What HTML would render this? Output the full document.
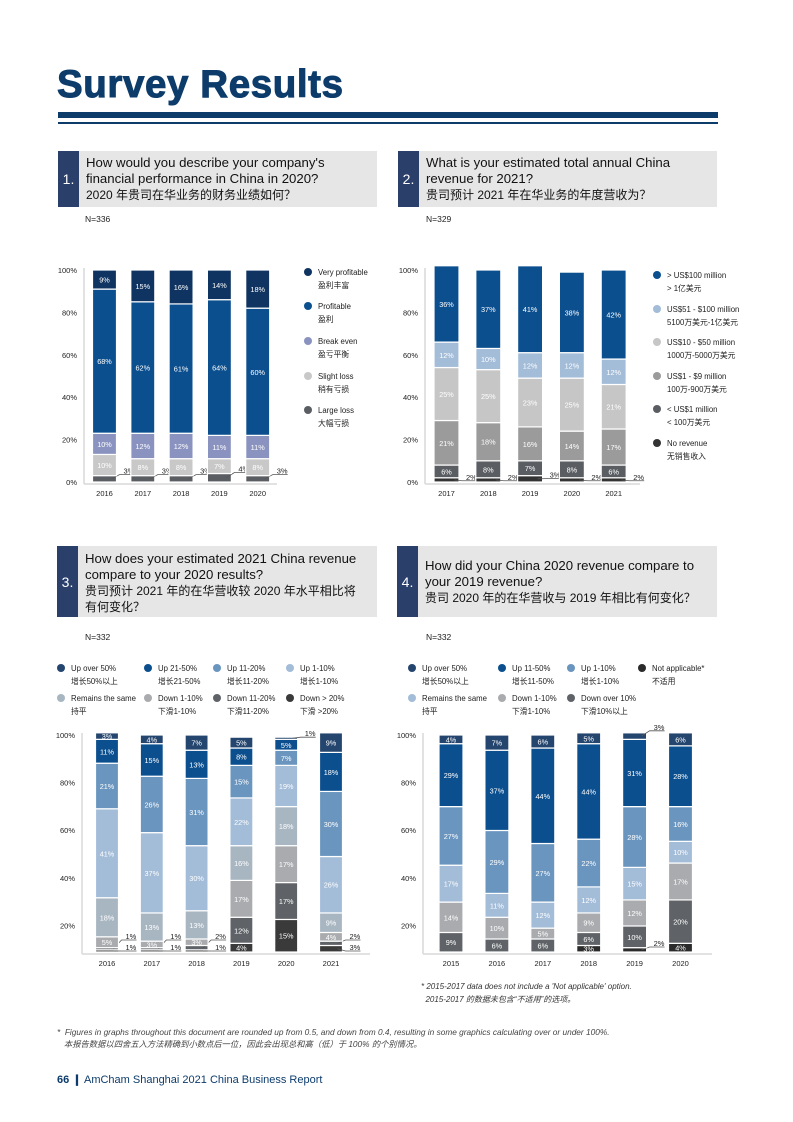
<!DOCTYPE html>
<html><head><meta charset="utf-8">
<style>
body{margin:0;background:#fff;}
#page{position:relative;width:793px;height:1122px;overflow:hidden;font-family:"Liberation Sans","Noto Sans CJK SC",sans-serif;}
.abs{position:absolute;}
.qbox{position:absolute;background:#e6e6e6;}
.qnum{position:absolute;left:0;top:0;bottom:0;width:21px;background:#2b3f6b;color:#fff;font-size:14px;display:flex;align-items:center;justify-content:center;}
.qtext{position:absolute;left:28px;top:4px;font-size:13.2px;line-height:16px;color:#111;}
.n{position:absolute;font-size:8.5px;color:#222;}
</style></head>
<body>
<div id="page">
<div class="abs" style="left:57px;top:63px;font-size:38.5px;font-weight:bold;color:#0d3c6b;letter-spacing:0.6px;-webkit-text-stroke:1px #0d3c6b;">Survey Results</div>
<div class="abs" style="left:58px;top:112px;width:660px;height:6px;background:#0d3c6b;"></div>
<div class="abs" style="left:58px;top:122px;width:660px;height:2px;background:#0d3c6b;"></div>

<div class="qbox" style="left:58px;top:151px;width:319px;height:56px;">
<div class="qnum">1.</div>
<div class="qtext">How would you describe your company's<br>financial performance in China in 2020?<br><span style="font-size:12px">2020 年贵司在华业务的财务业绩如何？</span></div></div>
<div class="n" style="left:85px;top:214px">N=336</div>

<div class="qbox" style="left:398px;top:151px;width:319px;height:56px;">
<div class="qnum">2.</div>
<div class="qtext">What is your estimated total annual China<br>revenue for 2021?<br><span style="font-size:12px">贵司预计 2021 年在华业务的年度营收为？</span></div></div>
<div class="n" style="left:426px;top:214px">N=329</div>

<div class="qbox" style="left:57px;top:546px;width:320px;height:71px;">
<div class="qnum">3.</div>
<div class="qtext" style="top:5px">How does your estimated 2021 China revenue<br>compare to your 2020 results?<br><span style="font-size:12px">贵司预计 2021 年的在华营收较 2020 年水平相比将<br>有何变化？</span></div></div>
<div class="n" style="left:85px;top:632px">N=332</div>

<div class="qbox" style="left:397px;top:546px;width:320px;height:71px;">
<div class="qnum">4.</div>
<div class="qtext" style="top:12px">How did your China 2020 revenue compare to<br>your 2019 revenue?<br><span style="font-size:12px">贵司 2020 年的在华营收与 2019 年相比有何变化？</span></div></div>
<div class="n" style="left:426px;top:632px">N=332</div>

<svg id="charts" class="abs" style="left:0;top:0" width="793" height="1122"></svg>

<div class="abs" style="left:421px;top:980px;font-size:8px;font-style:italic;color:#333;line-height:13px;">* 2015-2017 data does not include a 'Not applicable' option.<br>&nbsp; 2015-2017 的数据未包含“不适用”的选项。</div>
<div class="abs" style="left:57px;top:1026px;font-size:8.3px;font-style:italic;color:#444;line-height:12px;">* &nbsp;Figures in graphs throughout this document are rounded up from 0.5, and down from 0.4, resulting in some graphics calculating over or under 100%.<br>&nbsp;&nbsp; 本报告数据以四舍五入方法精确到小数点后一位，因此会出现总和高（低）于 100% 的个别情况。</div>
<div class="abs" style="left:57px;top:1073px;font-size:11px;color:#0d3c6b;"><b>66</b> <span style="font-weight:bold">❙</span> AmCham Shanghai 2021 China Business Report</div>
</div>

<script>
// ---------- Chart 1 data ----------
const c1Years = ["2016","2017","2018","2019","2020"];
const c1LargeLoss = [3,3,3,4,3];
const c1SlightLoss = [10,8,8,7,8];
const c1BreakEven = [10,12,12,11,11];
const c1Profitable = [68,62,61,64,60];
const c1VeryProfitable = [9,15,16,14,18];
const c1Ticks = [0,20,40,60,80,100];

// ---------- Chart 2 data ----------
const c2Years = ["2017","2018","2019","2020","2021"];
const c2NoRevenue = [2,2,3,2,2];
const c2Under1 = [6,8,7,8,6];
const c2From1to9 = [21,18,16,14,17];
const c2From10to50 = [25,25,23,25,21];
const c2From51to100 = [12,10,12,12,12];
const c2Over100 = [36,37,41,38,42];
const c2Ticks = [0,20,40,60,80,100];

// ---------- Chart 3 data ----------
const c3Years = ["2016","2017","2018","2019","2020","2021"];
const c3DownOver20 = [1,1,1,4,15,3];
const c3Down11to20 = [1,1,2,12,17,2];
const c3Down1to10 = [5,3,3,17,17,4];
const c3Same = [18,13,13,16,18,9];
const c3Up1to10 = [41,37,30,22,19,26];
const c3Up11to20 = [21,26,31,15,7,30];
const c3Up21to50 = [11,15,13,8,5,18];
const c3UpOver50 = [3,4,7,5,1,9];
const c3Ticks = [20,40,60,80,100];

// ---------- Chart 4 data ----------
const c4Years = ["2015","2016","2017","2018","2019","2020"];
const c4NotApplicable = [0,0,0,3,2,4];
const c4DownOver10 = [9,6,6,6,10,20];
const c4Down1to10 = [14,10,5,9,12,17];
const c4Same = [17,11,12,12,15,10];
const c4Up1to10 = [27,29,27,22,28,16];
const c4Up11to50 = [29,37,44,44,31,28];
const c4UpOver50 = [4,7,6,5,3,6];
const c4Ticks = [20,40,60,80,100];

const NS = "http://www.w3.org/2000/svg";
const svg = document.getElementById('charts');
function mk(tag, attrs, parent){
  const e = document.createElementNS(NS, tag);
  for (const k in attrs) e.setAttribute(k, attrs[k]);
  (parent||svg).appendChild(e);
  return e;
}
function txt(x,y,s,size,fill,anchor,parent){
  const t = mk('text',{x:x,y:y,'font-size':size,fill:fill,'text-anchor':anchor||'start','font-family':'Liberation Sans, Noto Sans CJK SC, sans-serif'},parent);
  t.textContent = s;
  return t;
}

function drawChart(cfg){
  const g = mk('g',{});
  
  
  const yScale = v => cfg.y0 - v*(cfg.y0-cfg.y100)/100;
  const tickY = cfg.tickY || yScale;
  const xCenter = i => cfg.x0 + i*cfg.step;
  const ax = mk('line',{x1:cfg.axisX,y1:cfg.y100-2,x2:cfg.axisX,y2:cfg.y0+2,stroke:'#d9d9d9','stroke-width':1.5},g);
  
  
  const bx = mk('line',{x1:cfg.axisX,y1:cfg.y0+2,x2:cfg.axisEnd,y2:cfg.y0+2,stroke:'#d9d9d9','stroke-width':1.5},g);
  
  
  cfg.ticks.forEach(t=>{
    const tl = txt(cfg.axisX-7, tickY(t)+3, t+'%', 7.5, '#222', 'end', g);
    
    
  });
  cfg.years.forEach((yr,i)=>{
    const xl = txt(xCenter(i), cfg.y0+14, yr, 7.5, '#222', 'middle', g);
    
    
    let cum = 0;
    let outCount = 0;
    cfg.series.forEach((s,si)=>{
      const v = s.values[i];
      const yb = yScale(cum), yt = yScale(cum+v);
      cum += v;
      if (v<=0) return;
      const r = mk('rect',{x:xCenter(i)-cfg.bw/2,y:yt,width:cfg.bw,height:Math.max(0,yb-yt),fill:s.color,stroke:'#fff','stroke-width':1.2},g);
      
      
      if (cfg.outside(v,si,i)){
        const lx = xCenter(i)+cfg.bw/2+6;
        const ly = cfg.outY ? cfg.outY(si,i,outCount,yb,yt) : (yb+yt)/2 - 4 - outCount*11;
        outCount++;
        mk('polyline',{points:`${xCenter(i)+cfg.bw/2-5},${(yb+yt)/2} ${xCenter(i)+cfg.bw/2+3},${ly+1} ${lx+12},${ly+1}`,fill:'none',stroke:'#555','stroke-width':0.8},g);
        const ol = txt(lx+1, ly, v+'%', 7.5, '#222', 'start', g);
        
        
      } else {
        const il = txt(xCenter(i), (yb+yt)/2+3, v+'%', 7.3, '#fff', 'middle', g);
        
        
      }
    });
  });
  cfg.legend.forEach((it,k)=>{
    const lg = mk('g',{},g);
    
    
    mk('circle',{cx:it.x,cy:it.y-3,r:4,fill:it.color},lg);
    txt(it.x+10,it.y,it.en,7.8,'#222','start',lg);
    txt(it.x+10,it.y+13,it.zh,7.8,'#222','start',lg);
  });
}

const C1 = {vp:'#0f3461',p:'#0b4f8f',be:'#8a93c0',sl:'#c8c8c8',ll:'#5a5e63'};
drawChart({name:'chart-1-financial-performance',years:c1Years,ticks:c1Ticks,
  y0:482,y100:270,x0:104.5,step:38.3,bw:24,axisX:84,axisEnd:277,
  series:[{values:c1LargeLoss,color:C1.ll},{values:c1SlightLoss,color:C1.sl},{values:c1BreakEven,color:C1.be},{values:c1Profitable,color:C1.p},{values:c1VeryProfitable,color:C1.vp}],
  outside:(v,si)=>si===0,
  outY:(si,i,n,yb,yt)=>yt-2,
  legend:[
    {x:308,y:275,color:C1.vp,en:'Very profitable',zh:'盈利丰富'},
    {x:308,y:309,color:C1.p,en:'Profitable',zh:'盈利'},
    {x:308,y:344,color:C1.be,en:'Break even',zh:'盈亏平衡'},
    {x:308,y:379,color:C1.sl,en:'Slight loss',zh:'稍有亏损'},
    {x:308,y:413,color:C1.ll,en:'Large loss',zh:'大幅亏损'}]});

const C2 = {o100:'#0b4f8f',m51:'#a3bcd8',m10:'#c6c6c6',m1:'#9b9b9b',u1:'#5a5e63',nr:'#333333'};
drawChart({name:'chart-2-annual-revenue',years:c2Years,ticks:c2Ticks,
  y0:482,y100:270,x0:446.5,step:41.8,bw:25,axisX:425,axisEnd:640,
  series:[{values:c2NoRevenue,color:C2.nr},{values:c2Under1,color:C2.u1},{values:c2From1to9,color:C2.m1},{values:c2From10to50,color:C2.m10},{values:c2From51to100,color:C2.m51},{values:c2Over100,color:C2.o100}],
  outside:(v,si)=>si===0,
  outY:(si,i,n,yb,yt)=>yt+2,
  legend:[
    {x:657,y:278,color:C2.o100,en:'> US$100 million',zh:'> 1亿美元'},
    {x:657,y:312,color:C2.m51,en:'US$51 - $100 million',zh:'5100万美元-1亿美元'},
    {x:657,y:345,color:C2.m10,en:'US$10 - $50 million',zh:'1000万-5000万美元'},
    {x:657,y:379,color:C2.m1,en:'US$1 - $9 million',zh:'100万-900万美元'},
    {x:657,y:412,color:C2.u1,en:'< US$1 million',zh:'< 100万美元'},
    {x:657,y:446,color:C2.nr,en:'No revenue',zh:'无销售收入'}]});

const C3 = {u50:'#24456e',u21:'#0b4f8f',u11:'#6a95bf',u1:'#a3bcd8',same:'#a8b6c2',d1:'#a9abae',d11:'#5f6367',d20:'#3a3a3a'};
const tick34 = v => 735 + (100-v)*2.38;
drawChart({name:'chart-3-revenue-2021-vs-2020',years:c3Years,ticks:c3Ticks,tickY:tick34,
  y0:952,y100:735,x0:107,step:44.8,bw:23,axisX:82,axisEnd:370,
  series:[{values:c3DownOver20,color:C3.d20},{values:c3Down11to20,color:C3.d11},{values:c3Down1to10,color:C3.d1},{values:c3Same,color:C3.same},{values:c3Up1to10,color:C3.u1},{values:c3Up11to20,color:C3.u11},{values:c3Up21to50,color:C3.u21},{values:c3UpOver50,color:C3.u50}],
  outside:(v,si,i)=>(v<=2)||(i===5&&si===0),
  outY:(si,i,n,yb,yt)=> (si===7 ? yt-1 : 950 - n*11),
  legend:[
    {x:61,y:671,color:C3.u50,en:'Up over 50%',zh:'增长50%以上'},
    {x:148,y:671,color:C3.u21,en:'Up 21-50%',zh:'增长21-50%'},
    {x:217,y:671,color:C3.u11,en:'Up 11-20%',zh:'增长11-20%'},
    {x:290,y:671,color:C3.u1,en:'Up 1-10%',zh:'增长1-10%'},
    {x:61,y:701,color:C3.same,en:'Remains the same',zh:'持平'},
    {x:148,y:701,color:C3.d1,en:'Down 1-10%',zh:'下滑1-10%'},
    {x:217,y:701,color:C3.d11,en:'Down 11-20%',zh:'下滑11-20%'},
    {x:290,y:701,color:C3.d20,en:'Down > 20%',zh:'下滑 >20%'}]});

const C4 = {u50:'#24456e',u11:'#0b4f8f',u1:'#6a95bf',same:'#a3bcd8',d1:'#a9abae',d10:'#5f6367',na:'#2b2b2b'};
drawChart({name:'chart-4-revenue-2020-vs-2019',years:c4Years,ticks:c4Ticks,tickY:tick34,
  y0:952,y100:735,x0:451,step:45.9,bw:24,axisX:423,axisEnd:712,
  series:[{values:c4NotApplicable,color:C4.na},{values:c4DownOver10,color:C4.d10},{values:c4Down1to10,color:C4.d1},{values:c4Same,color:C4.same},{values:c4Up1to10,color:C4.u1},{values:c4Up11to50,color:C4.u11},{values:c4UpOver50,color:C4.u50}],
  outside:(v,si,i)=>i===4&&(si===0||si===6),
  outY:(si,i,n,yb,yt)=> (si===6 ? yt-3 : yb-6),
  legend:[
    {x:412,y:671,color:C4.u50,en:'Up over 50%',zh:'增长50%以上'},
    {x:502,y:671,color:C4.u11,en:'Up 11-50%',zh:'增长11-50%'},
    {x:571,y:671,color:C4.u1,en:'Up 1-10%',zh:'增长1-10%'},
    {x:642,y:671,color:C4.na,en:'Not applicable*',zh:'不适用'},
    {x:412,y:701,color:C4.same,en:'Remains the same',zh:'持平'},
    {x:502,y:701,color:C4.d1,en:'Down 1-10%',zh:'下滑1-10%'},
    {x:571,y:701,color:C4.d10,en:'Down over 10%',zh:'下滑10%以上'}]});
</script>
</body></html>
